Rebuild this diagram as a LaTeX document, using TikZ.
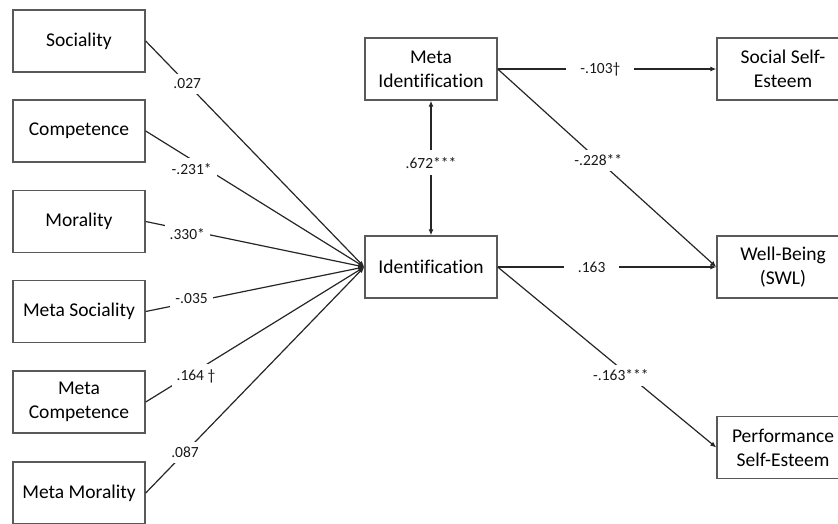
\documentclass[tikz,border=0pt]{standalone}
\usepackage{fontspec}
\setmainfont{Carlito}[Ligatures=CommonOff]
\usetikzlibrary{arrows.meta}
\begin{document}
\begin{tikzpicture}[x=1pt,y=-1pt,
  box/.style={draw=black!65, line width=1.4pt, minimum width=132pt, minimum height=62pt,
    inner sep=0pt, align=center, font=\fontsize{19.5}{24}\selectfont, text=black},
  conn/.style={line width=1.2pt, draw=black!85},
  arr/.style={conn, -{Latex[length=6pt,width=5pt]}},
  lab/.style={fill=white, inner sep=5pt, font=\fontsize{15.5}{18}\selectfont, text=black!90},
  hlab/.style={lab, inner xsep=14pt}]
\useasboundingbox (0,0) rectangle (838,523);
% left boxes
\node[box] (soc)  at (79,41)    {Sociality};
\node[box] (comp) at (79,131)   {Competence};
\node[box] (mor)  at (79,221.5) {Morality};
\node[box] (msoc) at (79,311.5) {Meta Sociality};
\node[box] (mcomp) at (79,402)  {Meta\\Competence};
\node[box] (mmor) at (79,493)   {Meta Morality};
% middle
\node[box] (mid) at (431,69)  {Meta\\Identification};
\node[box] (id)  at (431,267) {Identification};
% right
\node[box] (sse)  at (783,69)    {Social Self-\\Esteem};
\node[box] (wb)   at (783,267)   {Well-Being\\(SWL)};
\node[box] (pse)  at (783,447.5) {Performance\\Self-Esteem};
% left connectors
\draw[arr] (soc.east)  -- node[lab, pos=0.19] {.027} (id.west);
\draw[arr] (comp.east) -- node[lab, pos=0.21, yshift=-9pt] {-.231*} (id.west);
\draw[arr] (mor.east)  -- node[lab, pos=0.19, yshift=-4pt] {.330*} (id.west);
\draw[arr] (msoc.east) -- node[lab, pos=0.21, yshift=4pt] {-.035} (id.west);
\draw[arr] (mcomp.east) -- node[lab, pos=0.23, yshift=-5pt] {.164 †} (id.west);
\draw[arr] (mmor.east) -- node[lab, pos=0.18] {.087} (id.west);
% middle double arrow
\draw[conn, {Latex[length=6pt,width=5pt]}-{Latex[length=6pt,width=5pt]}] (mid.south) -- node[lab, pos=0.46, inner ysep=7pt] {.672***} (id.north);
% right connectors
\draw[arr] (mid.east) -- node[hlab, pos=0.47] {-.103†} (sse.west);
\draw[arr] (mid.east) -- node[lab, pos=0.46] {-.228**} (wb.west);
\draw[arr] (id.east)  -- node[hlab, pos=0.43] {.163} (wb.west);
\draw[arr] (id.east)  -- node[lab, pos=0.6, xshift=-8pt] {-.163***} (pse.west);
\end{tikzpicture}
\end{document}
